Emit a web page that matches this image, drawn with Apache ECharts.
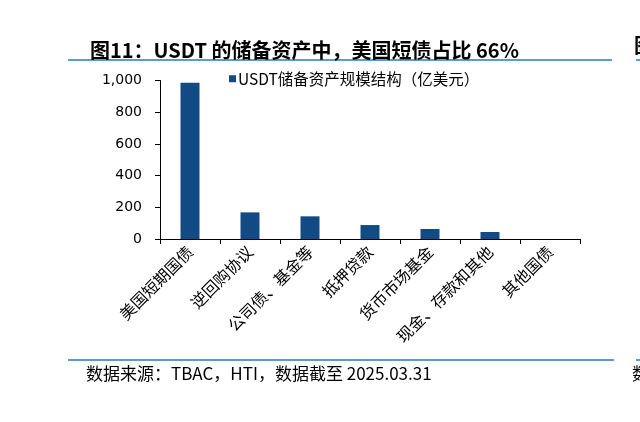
<!DOCTYPE html>
<html>
<head>
<meta charset="utf-8">
<script src="https://cdn.jsdelivr.net/npm/echarts@6/dist/echarts.min.js"></script>
<style>
html,body{margin:0;padding:0;background:#fff;}
#c{width:640px;height:422px;}
</style>
</head>
<body>
<div id="c"></div>
<script>
const categories = ['美国短期国债', '逆回购协议', '公司债、基金等', '抵押贷款', '货币市场基金', '现金、存款和其他', '其他国债'];
const reserveValues = [986, 168, 143, 88, 63, 44, 0];
const seriesName = 'USDT储备资产规模结构（亿美元）';
const yTicks = [0, 200, 400, 600, 800, 1000];
const titleText = '图11：USDT 的储备资产中，美国短债占比 66%';
const sourceText = '数据来源：TBAC，HTI，数据截至 2025.03.31';

const chart = echarts.init(document.getElementById('c'));
const cjk = '"Noto Sans CJK SC", "DejaVu Sans", sans-serif';
chart.setOption({
  animation: false,
  backgroundColor: '#fff',
  title: {
    text: titleText,
    left: 85, top: 35,
    textStyle: {fontSize: 20, fontWeight: 'bold', color: '#000', fontFamily: cjk}
  },
  legend: {
    data: [seriesName],
    left: 224, top: 66,
    itemWidth: 7, itemHeight: 7,
    itemGap: 2,
    icon: 'rect',
    textStyle: {fontSize: 15.5, color: '#000', fontFamily: cjk, padding: [0,0,0,-3]}
  },
  grid: {left: 160, right: 60, top: 80.5, bottom: 183, containLabel: false},
  xAxis: {
    type: 'category',
    data: categories,
    boundaryGap: true,
    axisLine: {lineStyle: {color: '#000', width: 1}},
    axisTick: {show: true, length: 5, lineStyle: {color: '#000'}},
    axisLabel: {rotate: 45, interval: 0, fontSize: 16, color: '#000', fontFamily: cjk, margin: 10}
  },
  yAxis: {
    type: 'value',
    min: yTicks[0], max: yTicks[yTicks.length-1], interval: 200,
    axisLine: {show: true, lineStyle: {color: '#000', width: 1}},
    axisTick: {show: true, length: 5, inside: false, lineStyle: {color: '#000'}},
    splitLine: {show: false},
    axisLabel: {
      fontSize: 14, color: '#000', fontFamily: '"DejaVu Sans", sans-serif', margin: 18,
      formatter: v => v.toLocaleString('en-US')
    }
  },
  series: [{
    name: seriesName,
    type: 'bar',
    data: reserveValues,
    barWidth: 19,
    itemStyle: {color: '#124B83', borderWidth: 0}
  }],
  graphic: [
    {type: 'line', shape: {x1: 68, y1: 60, x2: 612, y2: 60}, style: {stroke: '#5B9BD5', lineWidth: 2}},
    {type: 'line', shape: {x1: 636, y1: 60, x2: 640, y2: 60}, style: {stroke: '#5B9BD5', lineWidth: 2}},
    {type: 'line', shape: {x1: 68, y1: 360, x2: 614, y2: 360}, style: {stroke: '#5B9BD5', lineWidth: 2}},
    {type: 'line', shape: {x1: 636, y1: 360, x2: 640, y2: 360}, style: {stroke: '#5B9BD5', lineWidth: 2}},
    {type: 'text', left: 86, top: 365, style: {text: sourceText, fontSize: 17, fill: '#000', fontFamily: cjk}},
    {type: 'text', left: 634, top: 35, style: {text: '图', fontSize: 20, fontWeight: 'bold', fill: '#000', fontFamily: cjk}},
    {type: 'text', left: 632, top: 365, style: {text: '数', fontSize: 17, fill: '#000', fontFamily: cjk}}
  ]
});
</script>
</body>
</html>
